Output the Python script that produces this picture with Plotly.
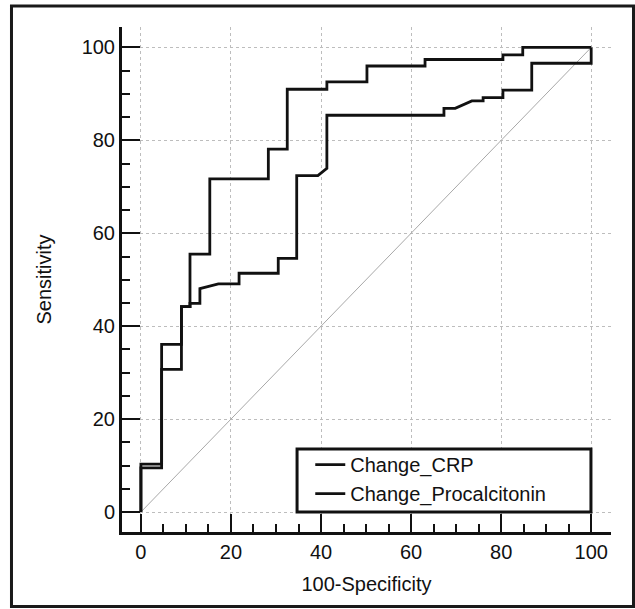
import plotly.graph_objects as go

# ROC curve points (100-Specificity, Sensitivity)
fpr_pct = [0, 0, 4.6, 4.6, 9.0, 9.0, 10.9, 10.9, 15.3, 15.3, 28.3, 28.3, 32.5, 32.5,
           41.3, 41.3, 50.2, 50.2, 63.1, 63.1, 80.4, 80.4, 84.8, 84.8, 100]
tpr_pct = [0, 10.3, 10.3, 36.1, 36.1, 44.2, 44.2, 55.5, 55.5, 71.7, 71.7, 78.1, 78.1, 91.0,
           91.0, 92.6, 92.6, 96.0, 96.0, 97.4, 97.4, 98.4, 98.4, 100, 100]

fpr_crp = [0, 0, 4.6, 4.6, 9.0, 9.0, 10.9, 10.9, 13.1, 13.1, 17.2, 21.8, 21.8, 30.5, 30.5,
           34.6, 34.6, 39.3, 41.3, 41.3, 67.3, 67.3, 69.8, 73.5, 76.0, 76.0, 80.4, 80.4,
           86.8, 86.8, 100, 100]
tpr_crp = [0, 9.5, 9.5, 30.7, 30.7, 44.2, 44.2, 44.9, 44.9, 48.1, 49.1, 49.1, 51.4, 51.4, 54.6,
           54.6, 72.4, 72.4, 74.0, 85.4, 85.4, 86.9, 86.9, 88.5, 88.5, 89.2, 89.2, 90.8,
           90.8, 96.6, 96.6, 100]

ref_x = [0, 100]
ref_y = [0, 100]

series_names = ["Change_CRP", "Change_Procalcitonin"]
tick_vals = [0, 20, 40, 60, 80, 100]
x_title = "100-Specificity"
y_title = "Sensitivity"

FONT = "Liberation Sans, Arial, Helvetica, sans-serif"

fig = go.Figure()
fig.add_trace(go.Scatter(x=ref_x, y=ref_y, mode="lines",
                         line=dict(color="#a8a8a8", width=1),
                         showlegend=False, hoverinfo="skip"))
fig.add_trace(go.Scatter(x=fpr_crp, y=tpr_crp, mode="lines", name=series_names[0],
                         line=dict(color="#111111", width=2.8)))
fig.add_trace(go.Scatter(x=fpr_pct, y=tpr_pct, mode="lines", name=series_names[1],
                         line=dict(color="#111111", width=2.8)))

axis_common = dict(
    tickvals=tick_vals,
    ticktext=[str(v) for v in tick_vals],
    ticks="inside", ticklen=18, tickwidth=2, tickcolor="#111111",
    showline=True, linewidth=3, linecolor="#111111",
    showgrid=True, gridcolor="#bdbdbd", gridwidth=1, griddash="dot",
    zeroline=False,
    tickfont=dict(family=FONT, size=20, color="#111111"),
    minor=dict(dtick=5, tick0=0, ticks="inside", ticklen=8, tickwidth=2,
               tickcolor="#111111", showgrid=False),
    fixedrange=True,
)

fig.update_layout(
    width=635, height=609,
    margin=dict(l=122, r=24, t=27, b=77),
    paper_bgcolor="white", plot_bgcolor="white",
    font=dict(family=FONT, size=20, color="#111111"),
    xaxis=dict(range=[-4.2, 104.4],
               title=dict(text=x_title, font=dict(family=FONT, size=20, color="#111111"), standoff=15),
               **axis_common),
    yaxis=dict(range=[-4.3, 104.4],
               title=dict(text=y_title, font=dict(family=FONT, size=20, color="#111111"), standoff=25),
               **axis_common),
    legend=dict(x=0.385, y=0.172, xanchor="left", yanchor="top",
                bgcolor="rgba(0,0,0,0)", borderwidth=0,
                font=dict(family=FONT, size=20, color="#111111")),
    shapes=[
        dict(type="rect", xref="paper", yref="paper",
             x0=0.358, x1=0.959, y0=0.0396, y1=0.1644,
             line=dict(color="#111111", width=3), fillcolor="white", layer="above"),
        dict(type="rect", xref="paper", yref="paper",
             x0=-0.226, x1=1.046, y0=-0.1475, y1=1.0416,
             line=dict(color="#1a1a1a", width=3), fillcolor="rgba(0,0,0,0)", layer="above"),
    ],
)

fig.write_html("out.html", config={"displayModeBar": False},
               post_script="document.body.style.margin='0';")
